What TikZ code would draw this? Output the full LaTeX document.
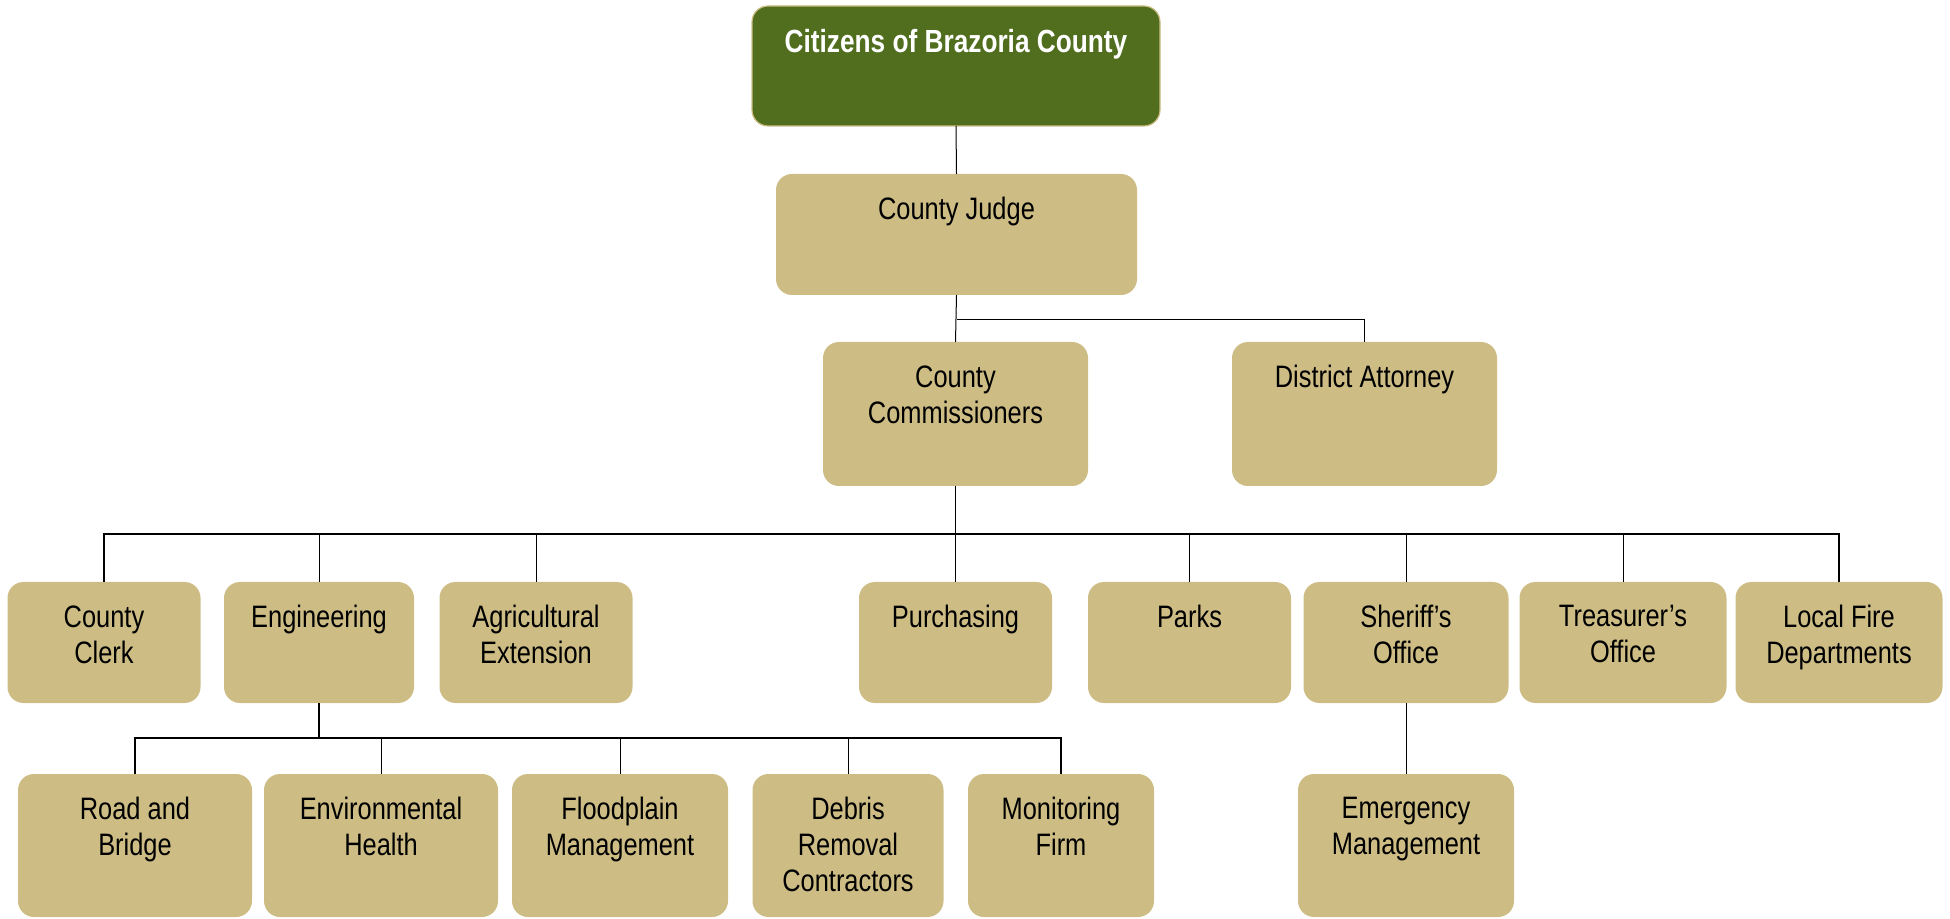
\documentclass[tikz,border=0pt]{standalone}
\usepackage{fontspec}
\setmainfont{Liberation Sans}[FakeStretch=0.82]
\usetikzlibrary{positioning}
\definecolor{tanbox}{RGB}{205,189,133}
\definecolor{olivebox}{RGB}{80,110,30}

\begin{document}
\begin{tikzpicture}[
    x=0.5pt, y=-0.5pt,
    office/.style={rectangle, rounded corners=8pt, fill=tanbox, inner sep=0pt, outer sep=0pt},
    headbox/.style={office, fill=olivebox, draw=tanbox, line width=0.6pt},
    sz/.style 2 args={minimum width=#1*0.5pt, minimum height=#2*0.5pt},
    txt/.style={anchor=north, yshift=-11.5pt, inner sep=0pt, align=center, font=\fontsize{15.5}{18}\selectfont},
    link/.style={draw=black, line width=0.5pt},
    bus/.style={draw=black, line width=0.75pt}
]
\useasboundingbox (0,0) rectangle (1950,919);

% Top levels
\node (citizens) [headbox, sz={408}{120}, label={[txt, text=white, font=\fontsize{16}{18}\selectfont\bfseries]north:{Citizens of Brazoria County}}] at (956,66) {};
\node (judge) [office, sz={361}{121}, label={[txt]north:{County Judge}}] at (956.5,234.5) {};
\node (comm) [office, sz={265}{144}, label={[txt]north:{County\\Commissioners}}] at (955.5,414) {};
\node (da) [office, sz={265}{144}, label={[txt]north:{District Attorney}}] at (1364.5,414) {};

% Departments
\node (clerk) [office, sz={193}{121}, label={[txt]north:{County\\Clerk}}] at (104,642.5) {};
\node (eng) [office, sz={190}{121}, label={[txt]north:{Engineering}}] at (319,642.5) {};
\node (agri) [office, sz={193}{121}, label={[txt]north:{Agricultural\\Extension}}] at (536,642.5) {};
\node (purch) [office, sz={193}{121}, label={[txt]north:{Purchasing}}] at (955.5,642.5) {};
\node (parks) [office, sz={203}{121}, label={[txt]north:{Parks}}] at (1189.5,642.5) {};
\node (sheriff) [office, sz={205}{121}, label={[txt]north:{Sheriff’s\\Office}}] at (1406,642.5) {};
\node (treas) [office, sz={207}{121}, label={[txt]north:{Treasurer’s\\Office}}] at (1623,642.5) {};
\node (fire) [office, sz={207}{121}, label={[txt]north:{Local Fire\\Departments}}] at (1839,642.5) {};

% Engineering units
\node (road) [office, sz={234}{143}, label={[txt]north:{Road and\\Bridge}}] at (135,845.5) {};
\node (env) [office, sz={234}{143}, label={[txt]north:{Environmental\\Health}}] at (381,845.5) {};
\node (flood) [office, sz={216}{143}, label={[txt]north:{Floodplain\\Management}}] at (620,845.5) {};
\node (debris) [office, sz={191}{143}, label={[txt]north:{Debris\\Removal\\Contractors}}] at (848,845.5) {};
\node (monit) [office, sz={186}{143}, label={[txt]north:{Monitoring\\Firm}}] at (1061,845.5) {};

% Sheriff unit
\node (emerg) [office, sz={216}{143}, label={[txt]north:{Emergency\\Management}}] at (1406,845.5) {};

% Junctions
\coordinate (jsplit) at (956.5,320);
\coordinate (deptbus) at (955.5,534);
\coordinate (engbus) at (319,738);

% Lines
\draw [link] (citizens.south) -- (judge.north);
\draw [link] (judge.south) -- (comm.north);
\draw [link] (jsplit) -| (da.north);
\draw [bus] (comm.south) -- (deptbus);
\draw [bus] (clerk.north) |- (fire.north |- deptbus) -- (fire.north);
\foreach \d in {eng,agri,purch,parks,sheriff,treas}
    \draw [link] (\d.north) -- (\d.north |- deptbus);

\draw [bus] (eng.south) -- (engbus);
\draw [bus] (road.north) |- (monit.north |- engbus) -- (monit.north);
\foreach \d in {env,flood,debris}
    \draw [link] (\d.north) -- (\d.north |- engbus);

\draw [link] (sheriff.south) -- (emerg.north);

\end{tikzpicture}
\end{document}
